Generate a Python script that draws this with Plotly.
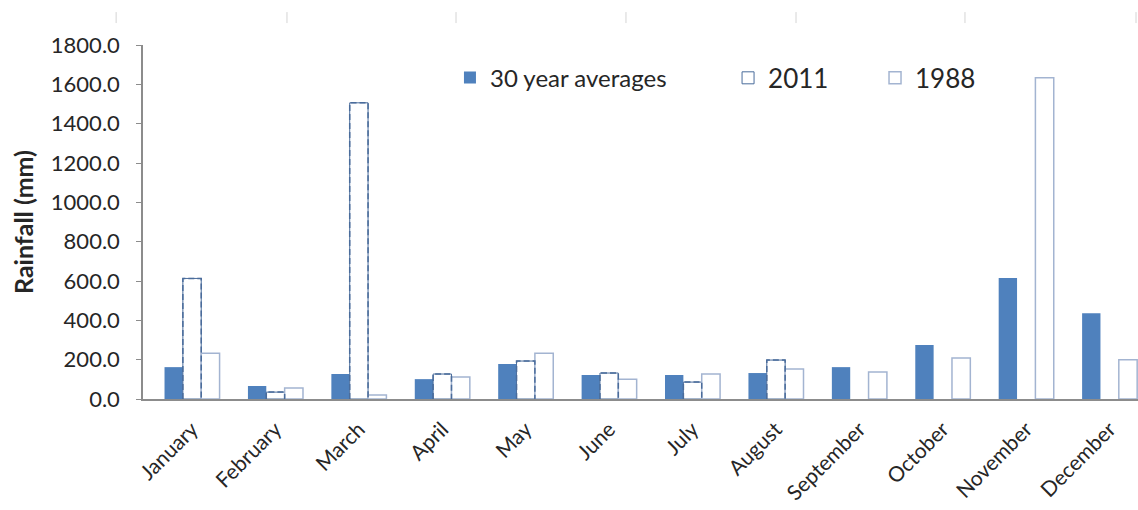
import numpy as np
import plotly.graph_objects as go

months = ["January", "February", "March", "April", "May", "June", "July",
          "August", "September", "October", "November", "December"]
avg30 = [162, 66, 127, 101, 178, 122, 122, 132, 162, 274, 615, 436]
y2011 = [613, 35, 1506, 127, 193, 132, 86, 198, None, None, None, None]
y1988 = [233, 56, 20, 112, 233, 101, 127, 152, 137, 208, 1634, 200]
yticks = [0, 200, 400, 600, 800, 1000, 1200, 1400, 1600, 1800]

FONT = "Lato"
TXT = "#262626"
BAR_W = 0.22
x = np.arange(len(months))
x2011 = [i for i, v in zip(x, y2011) if v is not None]
v2011 = [v for v in y2011 if v is not None]

fig = go.Figure()
fig.add_trace(go.Bar(
    x=x, y=avg30, name="30 year averages", width=BAR_W, offset=-1.5 * BAR_W,
    marker=dict(color="#4F81BD", line=dict(width=0)), legend="legend"))
fig.add_trace(go.Bar(
    x=x2011, y=v2011, name="2011", width=BAR_W, offset=-0.5 * BAR_W,
    marker=dict(color="white", line=dict(color="#4A6C9B", width=1)),
    legend="legend2"))
# dashed outline of the 2011 bars
ox, oy = [], []
for i, v in zip(x2011, v2011):
    l, r = i - 0.5 * BAR_W, i + 0.5 * BAR_W
    ox += [l, l, r, r, None]
    oy += [0, v, v, 0, None]
fig.add_trace(go.Scatter(
    x=ox, y=oy, mode="lines", showlegend=False, hoverinfo="skip",
    line=dict(color="#4A6C9B", width=1.5, dash="6px,3px")))
fig.add_trace(go.Bar(
    x=x, y=y1988, name="1988", width=BAR_W, offset=0.5 * BAR_W,
    marker=dict(color="white", line=dict(color="#A3B4D1", width=1.5)),
    legend="legend3"))

# faint marks along the top edge of the picture
for px in [-0.027, 0.1447, 0.3146, 0.4854, 0.6563, 0.8261, 0.998]:
    fig.add_shape(type="line", xref="paper", yref="paper", x0=px, x1=px,
                  y0=1.062, y1=1.093, line=dict(color="#d4d4d4", width=1))

fig.update_layout(
    width=1138, height=510,
    margin=dict(l=143, r=0, t=45, b=110.5, autoexpand=False),
    paper_bgcolor="white", plot_bgcolor="white",
    barmode="overlay",
    font=dict(family=FONT, color=TXT, size=20),
    xaxis=dict(
        range=[-0.588, 11.34], tickvals=list(x), ticktext=months,
        tickangle=-45, showgrid=False, zeroline=False, automargin=False,
        showline=True, linecolor="#8C8C8C", linewidth=1.5,
        ticks="", ticklabelstandoff=8,
        tickfont=dict(size=21, family=FONT, color=TXT),
    ),
    yaxis=dict(
        range=[0, 1800], tickvals=yticks, tickformat=".1f",
        showgrid=False, zeroline=False, automargin=False,
        showline=True, linecolor="#8C8C8C", linewidth=1.5,
        ticks="outside", ticklen=5, tickcolor="#8C8C8C", tickwidth=1,
        ticklabelstandoff=12,
        tickfont=dict(size=22, family=FONT, color=TXT),
        title=dict(text="<b>Rainfall (mm)</b>", standoff=10,
                   font=dict(size=25, family=FONT, color=TXT)),
    ),
    legend=dict(x=0.3085, y=0.907, xanchor="left", yanchor="middle",
                orientation="h", bgcolor="rgba(0,0,0,0)",
                font=dict(size=24, family=FONT, color=TXT)),
    legend2=dict(x=0.588, y=0.907, xanchor="left", yanchor="middle",
                 orientation="h", bgcolor="rgba(0,0,0,0)",
                 font=dict(size=26, family=FONT, color=TXT)),
    legend3=dict(x=0.7357, y=0.907, xanchor="left", yanchor="middle",
                 orientation="h", bgcolor="rgba(0,0,0,0)",
                 font=dict(size=26, family=FONT, color=TXT)),
)

fig.write_html("out.html")
